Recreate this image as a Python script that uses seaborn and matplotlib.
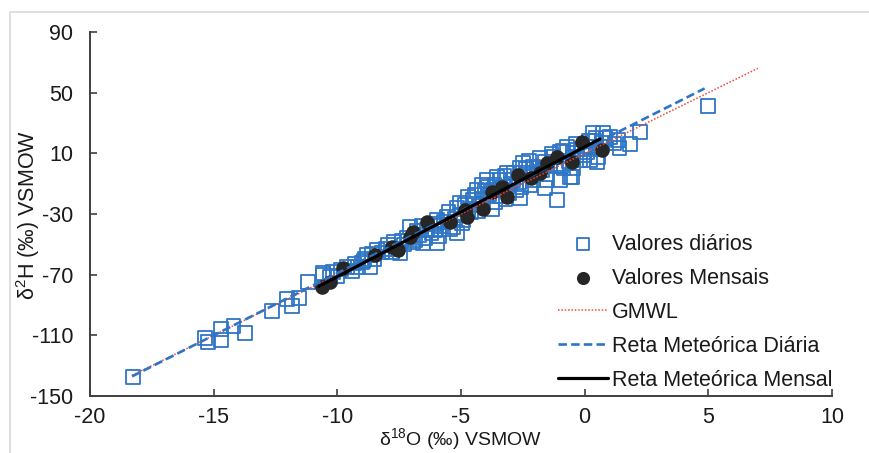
import numpy as np
import pandas as pd
import matplotlib
matplotlib.use("Agg")
import matplotlib.pyplot as plt
from matplotlib.patches import Rectangle
import seaborn as sns

# Daily precipitation samples: delta-18O and delta-2H (per mil, VSMOW)
daily_d18o = [
    -18.26, -15.35, -15.23, -14.70, -14.70, -14.20, -13.73, -12.64, -12.03, -11.83,
    -11.55, -11.18, -10.58, -10.30,
    -10.58, -10.17, -10.00, -9.85, -9.61, -9.40, -9.16, -9.00, -8.80, -8.68,
    -8.50, -8.39, -8.20, -7.95, -7.80, -7.46, -7.30, -7.18, -7.06, -6.95,
    -6.86, -6.70, -6.53, -6.37, -6.20, -5.97, -5.97, -5.80, -5.56, -5.45,
    -5.32, -5.16, -5.16, -5.00, -4.84, -4.71, -4.60, -4.51, -4.35, -4.25, -4.15, -4.11,
    -3.95, -3.85, -3.70, -3.60, -3.54, -3.42, -3.30, -3.20, -3.14, -3.00, -2.90, -2.75,
    -2.61, -2.49,
    -2.33, -2.20, -2.09, -2.09, -1.95, -1.80, -1.70, -1.52, -1.40, -1.28, -1.12, -1.00,
    -1.00, -0.85,
    -0.71, -0.59, -0.50, -0.47, -0.47, -0.30, -0.19, 0.00, 0.22, 0.22, 0.34, 0.40,
    0.54, 0.62, 0.74, 0.85,
    1.03, 1.20, 1.35, 1.40, 1.84, 2.24, 4.99,
    -2.61, -1.60, -0.51, -8.95, -7.65, -6.05, -4.95, -3.75, -2.55, -0.95, 0.10, 0.50,
    -9.30, -8.90, -8.60, -8.05, -7.70, -7.40, -6.80, -6.60, -6.45, -6.10,
    -5.90, -5.70, -5.50, -5.25, -5.05, -4.90, -4.70, -4.45, -4.30, -4.05,
    -3.90, -3.65, -3.45, -3.25, -3.05, -2.85, -2.65, -2.40, -2.25, -1.85,
    -1.60, -1.35, -1.15, -0.90, -0.65, -0.35, -0.10, 0.15, 0.45, 0.70,
]
daily_d2h = [
    -137.4, -111.7, -114.3, -105.8, -113.0, -103.8, -108.4, -93.9, -86.0, -90.6,
    -85.5, -74.8, -70.0, -71.5,
    -68.9, -68.2, -71.0, -66.5, -64.9, -67.5, -64.9, -62.0, -57.0, -64.9,
    -60.0, -53.7, -55.5, -50.4, -55.0, -55.7, -50.0, -45.8, -38.5, -48.5,
    -47.1, -44.0, -49.1, -40.5, -42.5, -49.1, -33.9, -38.0, -32.0, -40.0,
    -38.5, -42.5, -26.0, -30.5, -24.0, -18.8, -29.0, -20.7, -14.2, -24.5, -10.9, -20.7,
    -7.6, -17.0, -14.2, -22.0, -5.6, -7.6, -12.2, -20.0, -3.0, -10.0, -7.6, -14.5,
    0.4, 3.6,
    -3.0, -11.0, 1.0, -7.6, -3.5, 6.9, -1.0, -7.6, 2.0, 7.6, -20.7, -7.6,
    10.9, 0.0,
    14.2, -5.6, 8.0, 10.2, 0.4, 12.5, 5.6, 9.0, 5.6, 14.2, 23.4, 18.0,
    7.6, 14.2, 23.4, 20.0,
    20.8, 16.5, 18.8, 13.5, 16.2, 24.1, 41.2,
    -19.4, -13.0, -5.6, -61.0, -53.0, -41.0, -36.0, -27.0, -12.5, 1.5, 11.0, 4.0,
    -62.5, -59.5, -56.0, -53.0, -48.0, -47.5, -41.0, -38.0, -46.0, -36.5,
    -44.5, -35.0, -28.5, -33.0, -22.5, -34.0, -27.5, -17.5, -28.0, -15.0,
    -12.0, -10.5, -18.0, -5.0, -16.0, -2.5, -9.0, -0.5, 5.0, 0.5,
    4.5, 9.5, 3.0, 12.0, 4.5, 16.0, 13.0, 18.5, 20.5, 17.0,
]

# Monthly weighted means
monthly_d18o = [
    -10.62, -10.30, -9.77, -8.48, -7.79, -7.55, -7.06, -6.94, -6.37, -5.44, -4.84, -4.76,
    -4.11, -3.74, -3.34, -3.14, -2.69, -2.17, -1.80, -1.52, -1.12, -0.51, -0.11, 0.70,
]
monthly_d2h = [
    -78.0, -74.8, -65.6, -57.0, -51.7, -53.7, -45.1, -41.8, -35.6, -35.3, -27.3, -32.0,
    -26.5, -15.5, -12.2, -18.8, -4.3, -6.5, -3.0, 3.6, 7.6, 4.3, 17.5, 12.2,
]

# Meteoric water lines: slope, intercept and delta-18O extent
gmwl_slope, gmwl_intercept, gmwl_range = 8.0, 10.0, [-18.3, 7.0]
daily_slope, daily_intercept, daily_range = 8.2, 13.0, [-18.3, 4.85]
monthly_slope, monthly_intercept, monthly_range = 8.55, 14.2, [-10.75, 0.62]

labels = ["Valores diários", "Valores Mensais", "GMWL",
          "Reta Meteórica Diária", "Reta Meteórica Mensal"]
x_ticks = [-20, -15, -10, -5, 0, 5, 10]
y_ticks = [-150, -110, -70, -30, 10, 50, 90]

sns.set_theme(style="white")
plt.rcParams["font.family"] = ["Liberation Sans", "DejaVu Sans"]
plt.rcParams["mathtext.fontset"] = "custom"
plt.rcParams["mathtext.rm"] = "Liberation Sans"

W, H = 869, 453
FS = 15.5
fig = plt.figure(figsize=(W / 100, H / 100), dpi=100)
ax = fig.add_axes([90 / W, 1 - 396 / H, (832 - 90) / W, (396 - 32) / H])

blue = "#2E75C6"
red = "#F0463C"
black = "#262626"
text_c = "#1a1a1a"

daily = pd.DataFrame({"x": daily_d18o, "y": daily_d2h})
monthly = pd.DataFrame({"x": monthly_d18o, "y": monthly_d2h})

sns.scatterplot(data=daily, x="x", y="y", marker="s", s=95, facecolors="none",
                edgecolors=blue, linewidth=1.3, color=blue, label=labels[0], ax=ax, zorder=2)
sns.scatterplot(data=monthly, x="x", y="y", marker="o", s=110, color=black,
                edgecolor=black, linewidth=0, label=labels[1], ax=ax, zorder=3)


def line_frame(slope, intercept, xr):
    xs = np.array(xr)
    return pd.DataFrame({"x": xs, "y": slope * xs + intercept})


sns.lineplot(data=line_frame(gmwl_slope, gmwl_intercept, gmwl_range), x="x", y="y",
             color=red, linestyle=(0, (1, 1.2)), linewidth=1.1, label=labels[2], ax=ax, zorder=4)
sns.lineplot(data=line_frame(daily_slope, daily_intercept, daily_range), x="x", y="y",
             color=blue, linestyle=(0, (3.2, 1.6)), linewidth=1.9, label=labels[3], ax=ax, zorder=5)
sns.lineplot(data=line_frame(monthly_slope, monthly_intercept, monthly_range), x="x", y="y",
             color="black", linestyle="-", linewidth=2.3, label=labels[4], ax=ax, zorder=6)

ax.set_xlim(-20, 10)
ax.set_ylim(-150, 90)
ax.set_xticks(x_ticks)
ax.set_yticks(y_ticks)
ax.set_xticklabels([str(t) for t in x_ticks])
ax.set_yticklabels([str(t) for t in y_ticks])
ax.tick_params(axis="both", direction="in", length=5, width=1.2, color="#404040",
               labelsize=FS, labelcolor=text_c, pad=12)
ax.tick_params(axis="x", bottom=True, pad=8)
ax.tick_params(axis="y", left=True)
for side in ["top", "right"]:
    ax.spines[side].set_visible(False)
for side in ["left", "bottom"]:
    ax.spines[side].set_color("#404040")
    ax.spines[side].set_linewidth(1.4)

ax.set_xlabel("")
ax.set_ylabel("")
fig.text(461 / W, 1 - 453 / H, r"δ$^{\mathregular{18}}$O (‰) VSMOW", fontsize=14,
         color=text_c, ha="center", va="bottom")
fig.text(28 / W, 1 - 215 / H, r"δ$^{\mathregular{2}}$H (‰) VSMOW", fontsize=FS,
         color=text_c, ha="center", va="center", rotation=90)

leg = ax.legend(loc="upper left", bbox_to_anchor=(558 / W, 1 - 234 / H),
                bbox_transform=fig.transFigure, frameon=False, fontsize=FS,
                handlelength=2.3, handletextpad=0.2, labelspacing=0.6,
                borderpad=0, borderaxespad=0, markerscale=0.9)
for t in leg.get_texts():
    t.set_color(text_c)

# Light chart-area border
fig.add_artist(Rectangle((10 / W, -0.2), 1.2, 1.2 - 12 / H, transform=fig.transFigure,
                         fill=False, edgecolor="#d9d9d9", linewidth=1.2))

fig.savefig("out.png", dpi=100)
